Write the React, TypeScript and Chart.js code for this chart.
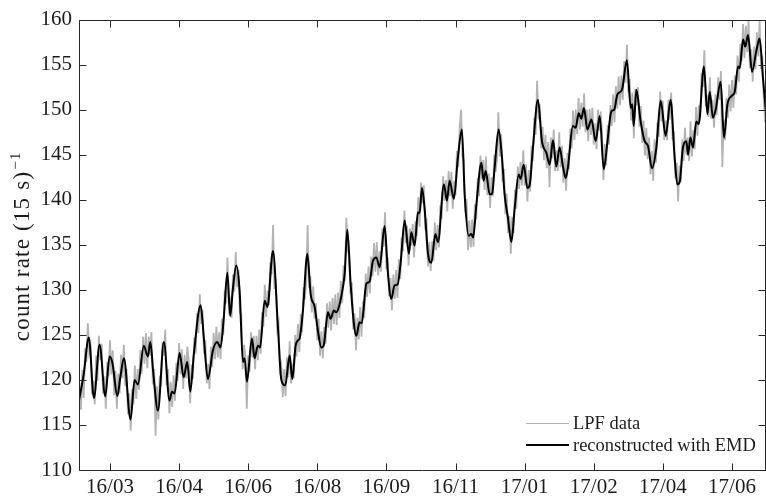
import React, { useEffect, useRef } from 'react';
import { Chart, registerables } from 'chart.js';

Chart.register(...registerables);

// x axis: days counted from the first labelled tick (16/03); ticks every 50 days
const tickDays = [0, 50, 100, 150, 200, 250, 300, 350, 400, 450];
const tickLabels = ['16/03', '16/04', '16/06', '16/08', '16/09', '16/11', '17/01', '17/02', '17/04', '17/06'];
const xMinDay = -22.4;
const xMaxDay = 474.6;
const yMin = 110;
const yMax = 160;
const yStep = 5;

const yTitle = 'count rate (15 s)';
const yTitleSup = '\u22121';
const legendLabels = ['LPF data', 'reconstructed with EMD'];

// reconstructed with EMD (black)
const emdDays = [
  -22.7, -19.1, -15.3, -11.6, -7.5, -3.4, -0.3, 1.9, 5.3, 7.5,
  10.1, 14.9, 17.8, 20.2, 24.5, 27.4, 29.2, 31.5, 34.7, 39.0,
  43.1, 44.8, 46.7, 50.4, 53.3, 55.9, 58.1, 60.7, 65.6, 67.9,
  70.8, 74.5, 77.6, 80.0, 82.4, 84.9, 87.0, 88.9, 91.4, 93.8,
  96.2, 97.4, 99.1, 102.7, 104.6, 107.0, 108.6, 111.9, 113.9, 117.9,
  121.5, 124.0, 126.8, 130.0, 131.9, 134.3, 136.0, 137.2, 139.6, 142.8,
  145.2, 148.1, 150.4, 152.9, 154.6, 157.7, 159.6, 162.0, 163.6, 165.6,
  167.6, 169.8, 171.7, 174.1, 176.5, 178.2, 180.6, 182.1, 185.5, 187.8,
  190.2, 192.7, 195.1, 198.7, 201.1, 203.5, 205.9, 208.1, 210.3, 213.2,
  216.3, 218.0, 220.4, 222.8, 224.0, 225.7, 227.6, 230.0, 232.5, 235.4,
  237.3, 241.6, 243.8, 245.7, 248.8, 251.7, 254.6, 256.6, 259.5, 261.4,
  262.7, 265.1, 268.7, 270.3, 271.8, 274.7, 276.5, 278.3, 281.2, 283.6,
  285.5, 287.9, 290.4, 292.8, 295.7, 297.1, 299.3, 302.0, 303.6, 306.0,
  309.6, 312.5, 315.7, 318.1, 320.5, 322.9, 325.3, 327.7, 329.7, 331.3,
  334.9, 336.9, 339.1, 341.0, 342.9, 345.4, 348.3, 351.4, 354.3, 357.2,
  359.8, 362.7, 364.8, 367.1, 370.4, 374.0, 376.7, 377.8, 378.9, 380.8,
  383.9, 386.8, 389.2, 392.1, 395.3, 398.4, 402.0, 405.6, 408.5, 410.5,
  412.2, 414.5, 417.0, 418.2, 419.9, 421.8, 424.2, 425.9, 429.7, 432.2,
  433.9, 436.2, 438.2, 441.8, 444.2, 446.7, 449.6, 452.0, 454.4, 455.6,
  458.0, 459.6, 461.6, 464.5, 467.7, 470.0, 472.4, 474.4,
];
const emdValues = [
  117.5, 120.5, 124.7, 118.0, 123.9, 118.2, 122.6, 121.8, 118.2, 120.3,
  122.4, 115.6, 120.0, 119.5, 123.8, 122.6, 124.2, 120.5, 116.6, 124.2,
  117.7, 118.7, 118.5, 123.0, 120.3, 122.0, 118.7, 122.9, 128.3, 124.7,
  120.1, 123.3, 124.2, 123.6, 127.0, 131.9, 127.1, 130.1, 132.7, 129.9,
  122.0, 122.4, 119.8, 124.6, 122.4, 123.8, 123.6, 128.8, 128.1, 134.3,
  125.9, 120.0, 119.4, 122.7, 120.1, 123.8, 124.4, 124.6, 127.7, 134.0,
  129.5, 128.1, 125.5, 123.6, 123.8, 127.5, 126.8, 127.7, 127.5, 128.1,
  129.5, 131.8, 136.7, 130.7, 126.2, 124.9, 126.4, 126.3, 130.7, 130.9,
  133.2, 133.6, 132.5, 137.1, 131.8, 129.0, 130.5, 130.6, 133.0, 137.7,
  134.0, 136.4, 134.9, 138.6, 138.5, 141.3, 139.1, 134.1, 133.0, 136.2,
  135.3, 141.7, 139.9, 142.1, 140.1, 144.7, 147.8, 140.6, 136.0, 136.2,
  135.8, 139.5, 144.1, 142.1, 143.2, 140.6, 140.7, 143.6, 147.8, 144.7,
  140.6, 138.0, 135.3, 139.1, 142.8, 142.3, 143.9, 141.3, 141.6, 145.8,
  151.1, 146.5, 145.2, 143.9, 146.6, 143.7, 145.8, 143.7, 142.4, 143.6,
  148.2, 148.0, 149.6, 149.0, 150.2, 147.8, 148.9, 146.5, 149.3, 143.4,
  146.3, 149.8, 150.0, 151.7, 152.2, 155.5, 150.2, 150.6, 148.2, 152.2,
  148.7, 146.5, 146.0, 143.5, 145.8, 151.0, 147.1, 151.1, 144.7, 141.7,
  142.0, 145.8, 146.5, 145.0, 146.9, 145.8, 148.7, 148.4, 154.8, 149.5,
  152.0, 149.1, 150.0, 153.1, 146.9, 150.6, 151.5, 152.0, 154.8, 154.6,
  157.8, 157.0, 158.3, 154.2, 156.6, 157.9, 153.5, 150.0,
];

// LPF data (grey), one sample per day starting at day -23
const lpfStartDay = -23;
const lpfStepDays = 1;
const lpfValues = [
  115.8, 119.7, 116.7, 121.1, 118.0, 123.5, 122.0, 126.3, 123.0, 123.7,
  118.4, 119.9, 117.3, 122.7, 119.9, 124.9, 122.2, 124.0, 118.5, 120.4,
  116.8, 122.0, 120.4, 124.4, 120.6, 123.3, 118.3, 121.0, 116.8, 120.7,
  118.5, 122.8, 120.2, 123.9, 119.3, 121.2, 116.2, 118.5, 114.4, 119.0,
  117.3, 121.6, 117.9, 121.2, 118.9, 123.3, 120.7, 124.8, 121.8, 125.2,
  121.3, 124.8, 122.7, 125.3, 119.5, 121.2, 113.8, 119.3, 115.6, 120.5,
  119.3, 124.2, 122.7, 125.6, 119.4, 121.2, 116.3, 119.8, 117.0, 120.5,
  117.7, 121.9, 119.9, 124.1, 120.6, 123.4, 119.0, 122.8, 120.2, 123.7,
  122.1, 117.4, 121.7, 120.1, 124.7, 122.9, 127.4, 125.2, 129.5, 126.2,
  127.8, 122.9, 124.4, 119.6, 121.8, 119.0, 123.7, 121.4, 125.2, 122.3,
  125.9, 122.5, 125.3, 122.3, 126.8, 125.0, 129.9, 128.5, 133.6, 127.9,
  128.7, 126.9, 131.7, 129.8, 134.2, 130.3, 132.2, 127.4, 127.3, 121.2,
  123.9, 122.7, 116.8, 122.7, 120.9, 125.3, 122.5, 124.9, 121.2, 124.9,
  122.2, 125.6, 122.9, 127.5, 125.9, 130.6, 127.0, 129.9, 128.3, 133.1,
  131.7, 137.2, 130.1, 131.2, 125.6, 126.3, 120.6, 121.5, 118.1, 121.2,
  118.2, 122.5, 120.3, 124.3, 119.6, 121.8, 120.2, 125.0, 122.6, 126.2,
  123.1, 127.3, 125.3, 130.3, 128.9, 131.0, 137.2, 130.2, 131.5, 127.5,
  130.4, 126.8, 128.5, 124.4, 126.8, 122.7, 125.4, 122.4, 125.9, 124.0,
  128.5, 125.8, 128.7, 125.5, 129.1, 126.2, 129.5, 126.1, 129.7, 126.9,
  131.0, 128.5, 132.7, 131.0, 138.0, 134.3, 134.0, 129.6, 130.8, 125.6,
  127.4, 123.3, 126.9, 124.5, 128.1, 124.8, 128.7, 126.9, 131.8, 129.2,
  132.6, 129.6, 133.7, 131.5, 135.2, 132.0, 135.3, 131.6, 134.3, 132.0,
  136.8, 134.8, 138.6, 132.3, 133.6, 129.3, 131.3, 127.7, 131.7, 129.0,
  132.2, 129.1, 133.4, 131.2, 135.8, 134.3, 138.8, 135.2, 137.1, 132.7,
  136.8, 134.9, 137.3, 133.6, 137.6, 136.0, 140.3, 137.0, 141.9, 139.6,
  141.6, 136.7, 137.9, 132.6, 135.3, 132.1, 135.4, 133.2, 137.5, 134.4,
  137.2, 134.7, 139.4, 137.9, 142.6, 139.9, 142.2, 138.7, 143.2, 140.4,
  143.1, 139.0, 142.1, 140.5, 145.4, 143.6, 148.0, 150.0, 144.8, 144.4,
  138.6, 140.1, 134.4, 137.7, 134.7, 137.8, 134.8, 139.5, 137.8, 142.4,
  140.4, 144.9, 142.3, 144.4, 141.1, 144.8, 140.5, 142.9, 139.1, 142.5,
  140.4, 145.0, 143.1, 144.6, 149.7, 144.8, 147.3, 142.0, 143.4, 138.4,
  140.7, 136.3, 138.2, 134.0, 138.1, 136.3, 141.1, 139.0, 143.7, 141.2,
  144.2, 141.6, 145.5, 141.6, 143.9, 139.8, 143.3, 140.9, 146.0, 144.3,
  149.1, 147.2, 153.2, 148.9, 150.6, 145.7, 148.1, 144.4, 147.2, 143.5,
  146.4, 141.4, 146.9, 144.6, 147.8, 143.2, 145.5, 143.2, 147.5, 143.6,
  146.0, 141.9, 144.6, 141.0, 145.2, 143.4, 147.9, 145.7, 149.9, 146.6,
  150.0, 147.3, 151.3, 147.8, 150.8, 148.1, 151.8, 147.5, 150.0, 146.5,
  150.1, 147.2, 150.2, 146.1, 148.5, 145.6, 150.0, 147.7, 149.8, 147.4,
  142.2, 146.2, 143.8, 148.3, 146.1, 150.5, 148.2, 151.7, 148.6, 152.6,
  150.1, 153.7, 150.5, 153.8, 151.1, 155.4, 153.0, 157.2, 151.9, 153.4,
  148.8, 151.9, 146.8, 152.3, 150.5, 152.5, 148.1, 150.4, 146.3, 148.8,
  144.9, 148.0, 144.5, 146.9, 142.8, 145.4, 142.1, 146.7, 144.1, 148.6,
  147.0, 152.0, 148.7, 151.0, 146.6, 148.8, 146.6, 151.1, 148.9, 151.9,
  146.6, 147.6, 142.4, 144.1, 139.8, 143.8, 142.0, 146.7, 144.3, 148.0,
  145.0, 146.9, 144.3, 148.7, 144.8, 147.7, 145.6, 150.3, 147.1, 150.5,
  149.0, 154.1, 152.5, 156.6, 150.4, 151.6, 149.2, 153.6, 149.0, 151.1,
  148.0, 151.7, 149.4, 153.6, 151.1, 154.3, 143.6, 148.9, 146.6, 151.3,
  149.1, 152.8, 149.8, 153.3, 150.2, 153.8, 151.7, 156.0, 153.1, 157.3,
  155.4, 159.5, 155.7, 159.3, 156.4, 159.9, 154.6, 156.7, 153.1, 157.0,
  154.5, 158.6, 155.9, 159.9, 154.5, 156.0, 151.1, 148.6,
];

const FONT = "'Liberation Serif', 'Times New Roman', serif";
const TEXT = '#1c1c1c';
const AXIS = '#262626';
const LEGEND_LINE_WIDTHS = [1, 2];

const framePlugin = {
  id: 'frameTicksLegend',
  afterDatasetsDraw(chart: any) {
    const { ctx, chartArea: a } = chart;
    const xs = chart.scales.x;
    const ys = chart.scales.y;
    ctx.save();
    // frame with inward ticks
    ctx.strokeStyle = AXIS;
    ctx.lineWidth = 1;
    const L = Math.round(a.left) + 0.5;
    const R = Math.round(a.right) - 0.5;
    const T = Math.round(a.top) + 0.5;
    const B = Math.round(a.bottom) + 0.5;
    const len = 7;
    ctx.beginPath();
    ctx.rect(L, T, R - L, B - T);
    xs.ticks.forEach((t: any) => {
      const px = Math.round(xs.getPixelForValue(t.value)) + 0.5;
      ctx.moveTo(px, B);
      ctx.lineTo(px, B - len);
      ctx.moveTo(px, T);
      ctx.lineTo(px, T + len);
    });
    ys.ticks.forEach((t: any) => {
      const py = Math.round(ys.getPixelForValue(t.value)) + 0.5;
      ctx.moveTo(L, py);
      ctx.lineTo(L + len, py);
      ctx.moveTo(R, py);
      ctx.lineTo(R - len, py);
    });
    ctx.stroke();

    // legend (inside plot, lower right)
    const ds = chart.data.datasets;
    const lx0 = a.right - 240;
    const lx1 = lx0 + 43;
    const rows = [a.bottom - 47, a.bottom - 25];
    ctx.font = `18.5px ${FONT}`;
    ctx.fillStyle = TEXT;
    ctx.textAlign = 'left';
    ctx.textBaseline = 'middle';
    ds.forEach((d: any, i: number) => {
      const w = LEGEND_LINE_WIDTHS[i];
      const y = rows[i] + (w % 2 ? 0.5 : 0);
      ctx.beginPath();
      ctx.strokeStyle = d.borderColor;
      ctx.lineWidth = w;
      ctx.moveTo(lx0, y);
      ctx.lineTo(lx1, y);
      ctx.stroke();
      ctx.fillText(d.label, lx1 + 4, rows[i] + 1);
    });

    // y axis title with superscript
    ctx.save();
    ctx.translate(29, (a.top + a.bottom) / 2 + 2);
    ctx.rotate(-Math.PI / 2);
    ctx.fillStyle = TEXT;
    ctx.textBaseline = 'alphabetic';
    ctx.textAlign = 'left';
    (ctx as any).letterSpacing = '1.2px';
    ctx.font = `23px ${FONT}`;
    const wm = ctx.measureText(yTitle).width;
    ctx.font = `15px ${FONT}`;
    const wsup = ctx.measureText(yTitleSup).width;
    const start = -(wm + wsup) / 2;
    ctx.font = `23px ${FONT}`;
    ctx.fillText(yTitle, start, 0);
    ctx.font = `15px ${FONT}`;
    ctx.fillText(yTitleSup, start + wm + 1, -9);
    ctx.restore();

    ctx.restore();
  },
};

export default function App() {
  const ref = useRef<HTMLCanvasElement | null>(null);

  useEffect(() => {
    document.body.style.margin = '0';
    const canvas = ref.current;
    if (!canvas) return;
    const lpfPoints = lpfValues.map((v, i) => ({ x: lpfStartDay + i * lpfStepDays, y: v }));
    const emdPoints = emdValues.map((v, i) => ({ x: emdDays[i], y: v }));
    const chart = new Chart(canvas, {
      type: 'line',
      data: {
        datasets: [
          {
            label: legendLabels[0],
            data: lpfPoints,
            borderColor: '#b3b3b3',
            borderWidth: 1.8,
            pointRadius: 0,
            tension: 0,
            order: 2,
          },
          {
            label: legendLabels[1],
            data: emdPoints,
            borderColor: '#000000',
            borderWidth: 2,
            pointRadius: 0,
            cubicInterpolationMode: 'monotone',
            order: 1,
          },
        ],
      },
      options: {
        responsive: false,
        animation: false,
        devicePixelRatio: 1,
        layout: { padding: { top: 18, right: 0, left: 0, bottom: 0 } },
        plugins: {
          legend: { display: false },
          tooltip: { enabled: false },
        },
        scales: {
          x: {
            type: 'linear',
            min: xMinDay,
            max: xMaxDay,
            grid: { display: false, drawTicks: false },
            border: { display: false },
            afterFit: (s: any) => {
              s.height = 28;
            },
            afterBuildTicks: (s: any) => {
              s.ticks = tickDays.map((v) => ({ value: v }));
            },
            ticks: {
              autoSkip: false,
              maxRotation: 0,
              minRotation: 0,
              padding: 5,
              color: TEXT,
              font: { family: FONT, size: 21 },
              callback: (_v: any, i: number) => tickLabels[i],
            },
          },
          y: {
            type: 'linear',
            min: yMin,
            max: yMax,
            grid: { display: false, drawTicks: false },
            border: { display: false },
            afterFit: (s: any) => {
              s.width = 79;
            },
            ticks: {
              stepSize: yStep,
              padding: 7,
              color: TEXT,
              font: { family: FONT, size: 21 },
            },
          },
        },
      },
      plugins: [framePlugin],
    });
    return () => chart.destroy();
  }, []);

  return (
    <div style={{ width: 766, height: 498, background: '#fff' }}>
      <canvas ref={ref} width={766} height={498} style={{ display: 'block', width: 766, height: 498 }} />
    </div>
  );
}
